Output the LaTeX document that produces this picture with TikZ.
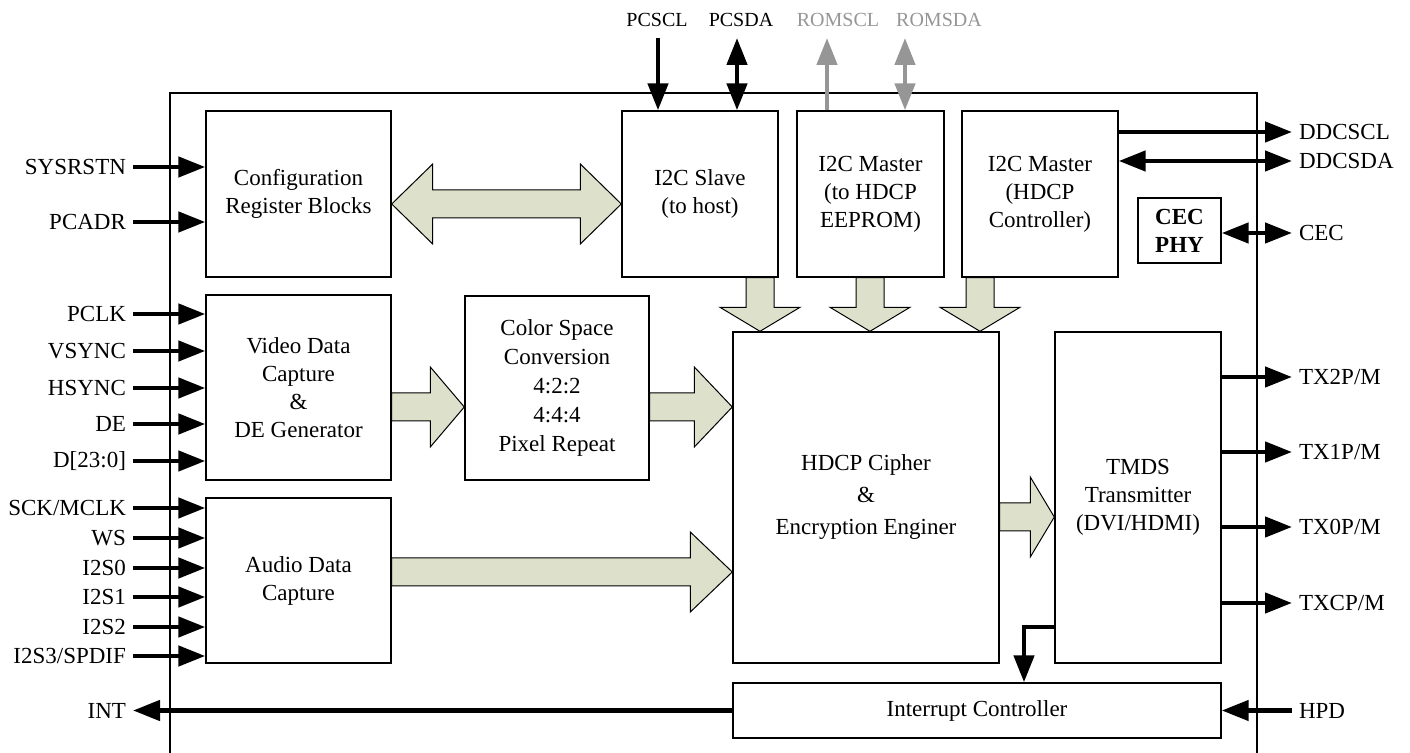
\documentclass[tikz,border=0pt]{standalone}
\usepackage{fontspec}
\setmainfont{Liberation Serif}
\usepackage{xcolor}
\usepackage{tikz}
\usetikzlibrary{arrows.meta, calc}
\definecolor{busfill}{RGB}{221,224,203}
\definecolor{romgray}{RGB}{150,150,150}
\tikzstyle{blk}=[draw, line width=0.7pt, align=center, inner sep=2pt, font=\fontsize{11.5}{14}\selectfont]
\tikzstyle{lbl}=[font=\fontsize{11.5}{14}\selectfont]
\tikzstyle{toplbl}=[font=\fontsize{10}{12}\selectfont]
\tikzstyle{sig}=[line width=2.3pt, -{Triangle[length=13.5pt,width=10pt]}]
\tikzstyle{sigboth}=[line width=2.3pt, {Triangle[length=13.5pt,width=10pt]}-{Triangle[length=13.5pt,width=10pt]}]
\tikzstyle{bus}=[draw, line width=0.5pt, fill=busfill, line join=miter]
\tikzset{boxsize/.style 2 args={minimum width=#1*0.5pt, minimum height=#2*0.5pt}}
% fat data-path arrows
\newcommand\busarrow[3]{%
  \coordinate (ba) at (#1); \coordinate (bb) at (#2);
  \coordinate (bh) at ($(bb)!#3!(ba)$);
  \draw[bus] ($(ba)!7pt!90:(bb)$) -- ($(bh)!7pt!90:(bb)$) -- ($(bh)!20pt!90:(bb)$) -- (bb)
    -- ($(bh)!20pt!-90:(bb)$) -- ($(bh)!7pt!-90:(bb)$) -- ($(ba)!7pt!-90:(bb)$) -- cycle;}
\newcommand\busarrowboth[3]{%
  \coordinate (ba) at (#1); \coordinate (bb) at (#2);
  \coordinate (bh) at ($(bb)!#3!(ba)$); \coordinate (bt) at ($(ba)!#3!(bb)$);
  \draw[bus] (ba) -- ($(bt)!20pt!90:(bb)$) -- ($(bt)!7pt!90:(bb)$) -- ($(bh)!7pt!90:(bb)$)
    -- ($(bh)!20pt!90:(bb)$) -- (bb) -- ($(bh)!20pt!-90:(bb)$) -- ($(bh)!7pt!-90:(bb)$)
    -- ($(bt)!7pt!-90:(bb)$) -- ($(bt)!20pt!-90:(bb)$) -- cycle;}

\begin{document}
\begin{tikzpicture}[x=0.5pt, y=-0.5pt]
    \useasboundingbox (0,0) rectangle (1410,753);
    \draw[line width=0.7pt] (170,753) -- (170,93) -- (1257,93) -- (1257,753);

    % blocks
    \node[blk, boxsize={185}{166}] (cfg) at (298.5,194) {Configuration\\Register Blocks};
    \node[blk, boxsize={185}{185}] (vdc) at (298.5,387.5) {Video Data\\Capture\\\&\\DE Generator};
    \node[blk, boxsize={185}{165}] (adc) at (298.5,580.5) {Audio Data\\Capture};
    \node[blk, boxsize={184}{184}, font=\fontsize{11.5}{14.6}\selectfont] (csc) at (557,388) {Color Space\\Conversion\\4:2:2\\4:4:4\\Pixel Repeat};
    \node[blk, boxsize={156}{166}] (slave) at (700,194) {I2C Slave\\(to host)};
    \node[blk, boxsize={147}{166}] (romm) at (870.5,194) {I2C Master\\(to HDCP\\EEPROM)};
    \node[blk, boxsize={156}{166}] (hdcpm) at (1040,194) {I2C Master\\(HDCP\\Controller)};
    \node[blk, boxsize={83}{65}, font=\fontsize{11.5}{14}\selectfont\bfseries] (cec) at (1179.5,230.5) {CEC\\PHY};
    \node[blk, boxsize={266}{331}, font=\fontsize{11.5}{16}\selectfont] (hdcp) at (866,497.5) {HDCP Cipher\\\&\\Encryption Enginer};
    \node[blk, boxsize={166}{331}] (tmds) at (1138,497.5) {TMDS\\Transmitter\\(DVI/HDMI)};
    \node[blk, boxsize={488}{55}] (intc) at (977,710.5) {Interrupt Controller};

    % data paths
    \busarrowboth{cfg.east |- 0,204}{slave.west |- 0,204}{20.5pt}
    \busarrow{vdc.east |- 0,407}{csc.west |- 0,407}{17pt}
    \busarrow{csc.east |- 0,407}{hdcp.west |- 0,407}{19pt}
    \busarrow{adc.east |- 0,572}{hdcp.west |- 0,572}{21pt}
    \busarrow{hdcp.east |- 0,517}{tmds.west |- 0,517}{12pt}
    \foreach \xx/\src in {760/slave, 870/romm, 980/hdcpm} {
        \busarrow{\src.south -| \xx,0}{hdcp.north -| \xx,0}{12pt}
    }

    % left pins
    \foreach \nm/\txt/\yy in {sysrstn/SYSRSTN/167, pcadr/PCADR/222} {
        \node[lbl, anchor=east] (\nm) at (133,\yy) {\txt};
        \draw[sig] (\nm.east) -- (\nm.east -| cfg.west);
    }
    \foreach \nm/\txt/\yy in {pclk/PCLK/314, vsync/VSYNC/351, hsync/HSYNC/388, de/DE/424, dat/{D[23:0]}/461} {
        \node[lbl, anchor=east] (\nm) at (133,\yy) {\txt};
        \draw[sig] (\nm.east) -- (\nm.east -| vdc.west);
    }
    \foreach \nm/\txt/\yy in {sck/{SCK/MCLK}/508, ws/WS/538, isa/I2S0/568, isb/I2S1/597, isc/I2S2/627, isd/{I2S3/SPDIF}/656} {
        \node[lbl, anchor=east] (\nm) at (133,\yy) {\txt};
        \draw[sig] (\nm.east) -- (\nm.east -| adc.west);
    }
    \node[lbl, anchor=east] (int) at (intc.west -| 133,0) {INT};
    \draw[sig] (intc.west) -- (int.east);

    % right pins
    \node[lbl, anchor=west] (ddcscl) at (1292,132) {DDCSCL};
    \draw[sig] (ddcscl.west -| hdcpm.east) -- (ddcscl.west);
    \node[lbl, anchor=west] (ddcsda) at (1292,161) {DDCSDA};
    \draw[sigboth] (ddcsda.west -| hdcpm.east) -- (ddcsda.west);
    \node[lbl, anchor=west] (cecpin) at (1292,233) {CEC};
    \draw[sigboth] (cecpin.west -| cec.east) -- (cecpin.west);
    \foreach \nm/\txt/\yy in {txa/{TX2P/M}/377, txb/{TX1P/M}/452, txc/{TX0P/M}/527, txd/{TXCP/M}/603} {
        \node[lbl, anchor=west] (\nm) at (1292,\yy) {\txt};
        \draw[sig] (\nm.west -| tmds.east) -- (\nm.west);
    }
    \node[lbl, anchor=west] (hpd) at (intc.east -| 1292,0) {HPD};
    \draw[sig] (hpd.west) -- (intc.east);
    \draw[sig] (tmds.west |- 0,627) -| (intc.north -| 1024,0);

    % top pins
    \node[toplbl] (pcscl) at (657,20) {PCSCL};
    \node[toplbl] (pcsda) at (741,20) {PCSDA};
    \node[toplbl, romgray] (romscl) at (838,20) {ROMSCL};
    \node[toplbl, romgray] (romsda) at (939,20) {ROMSDA};
    \coordinate (pcsclend) at (658,38);
    \coordinate (pcsdaend) at (737,38);
    \coordinate (romsclend) at (827,38);
    \coordinate (romsdaend) at (905,38);
    \draw[sig] (pcsclend) -- (slave.north -| pcsclend);
    \draw[sigboth] (pcsdaend) -- (slave.north -| pcsdaend);
    \draw[sig, romgray] (romm.north -| romsclend) -- (romsclend);
    \draw[sigboth, romgray] (romsdaend) -- (romm.north -| romsdaend);
\end{tikzpicture}
\end{document}
